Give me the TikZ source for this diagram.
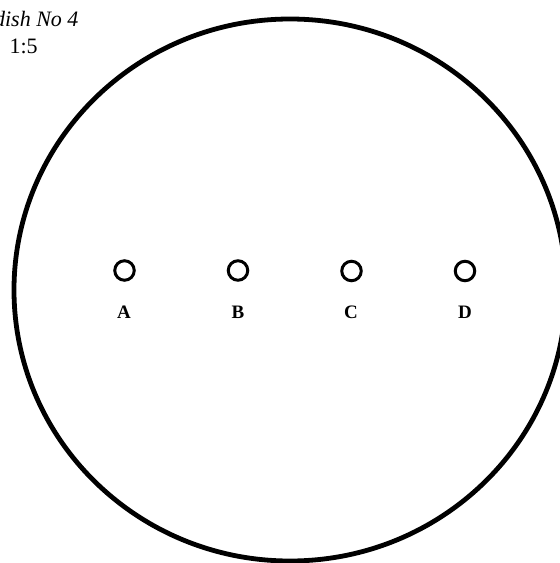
\documentclass[tikz,border=0pt]{standalone}
\usepackage{fontspec}
\setmainfont{Liberation Serif}
\usetikzlibrary{positioning}
\begin{document}
\begin{tikzpicture}[
    x=1pt, y=-1pt,
    every node/.style={font=\fontsize{22}{26}\selectfont},
    dish/.style={draw, line width=4.8pt},
    hole/.style={circle, draw, line width=3pt, minimum size=19.5pt, inner sep=0pt},
    letter/.style={font=\fontsize{19}{22}\selectfont\bfseries},
    caption/.style={font=\fontsize{22}{26}\selectfont\itshape, anchor=base east},
]
\useasboundingbox (0,0) rectangle (560,563);
\clip (0,0) rectangle (560,563);

% Title, cut at the left edge
\node[caption] (title) at (82,26) {dish No 4};
\node[anchor=base west] (scale) at (6,53) {1:5};

% Dish outline
\draw[dish] (290,290) ellipse [x radius=276, y radius=271];

% Wells
\node[hole] (wellA) at (124.5,270.5) {};
\node[hole] (wellB) at (238,270.5) {};
\node[hole] (wellC) at (351.5,271) {};
\node[hole] (wellD) at (465,271) {};

% Letters
\node[letter] (labA) at (124,312) {A};
\node[letter] (labB) at (238,312) {B};
\node[letter] (labC) at (351,312) {C};
\node[letter] (labD) at (465,312) {D};

\end{tikzpicture}
\end{document}
